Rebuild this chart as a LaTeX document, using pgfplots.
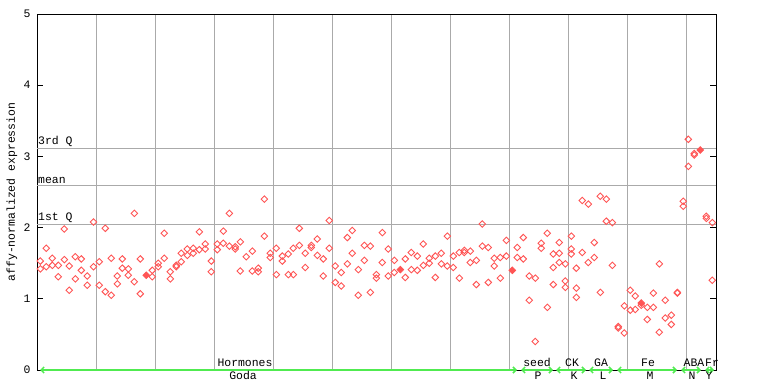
\documentclass[border=0pt]{standalone}
\usepackage{fontspec}
\setmainfont{Liberation Mono}
\usepackage{pgfplots}
\pgfplotsset{compat=1.18}
\usetikzlibrary{arrows.meta}
\definecolor{pt}{RGB}{255,85,85}
\definecolor{gridc}{RGB}{170,170,170}
\definecolor{grn}{RGB}{80,235,80}
\newcommand{\lf}{\fontsize{11.5}{13}\selectfont}
\tikzset{gb/.tip={Straight Barb[length=3bp,width=6bp]}}
\begin{document}
\begin{tikzpicture}[font=\lf]
\useasboundingbox (0,0) rectangle (768bp,384bp);
\begin{axis}[
 at={(37bp,14bp)}, anchor=south west,
 scale only axis, width=679bp, height=356bp,
 xmin=37, xmax=716, ymin=0, ymax=5,
 xtick={96,155,214,273,332,391,450,509,568,627,686},
 xticklabels={},
 xmajorgrids=true,
 ytick={0,1,2,3,4,5},
 major tick length=6bp,
 tick align=inside,
 xtick style={draw=none},
 ytick style={black, line width=1bp},
 major grid style={gridc, line width=1bp},
 extra y ticks={2.05,2.594,3.114},
 extra y tick labels={},
 extra y tick style={ymajorgrids=true, tick style={draw=none}},
 /pgf/number format/assume math mode=true,
 yticklabel style={font=\lf, xshift=-3bp},
 ylabel={affy-normalized expression},
 ylabel style={at={(axis description cs:-0.0368,0.5)}, anchor=center, font=\lf},
 axis line style={black, line width=1bp},
 clip=false,
]
\addplot[grn, line width=1.5bp, gb-gb] coordinates {(40,0) (517,0)};
\addplot[grn, line width=1.5bp, gb-gb] coordinates {(521,0) (553,0)};
\addplot[grn, line width=1.5bp, gb-gb] coordinates {(556,0) (586,0)};
\addplot[grn, line width=1.5bp, gb-gb] coordinates {(589,0) (613,0)};
\addplot[grn, line width=1.5bp, gb-gb] coordinates {(617,0) (677,0)};
\addplot[grn, line width=1.5bp, gb-gb] coordinates {(681,0) (701,0)};
\addplot[grn, line width=1.5bp, gb-gb] coordinates {(705,0) (714,0)};

\addplot[only marks, mark=square, mark size=2.3bp, mark options={rotate=45, draw=pt, line width=0.9bp}] table {
x y
40.3 1.53
40.3 1.42
46.3 1.71
46.3 1.45
52.3 1.57
52.3 1.47
58.3 1.47
58.3 1.31
64.3 1.98
64.3 1.55
69.3 1.46
69.3 1.12
75.3 1.59
75.3 1.28
81.3 1.56
81.3 1.40
87.3 1.32
87.3 1.19
93.5 2.08
93.5 1.45
99.3 1.52
99.3 1.19
105.3 1.99
105.3 1.10
111.3 1.57
111.3 1.05
117.3 1.32
117.3 1.21
122.3 1.56
122.3 1.43
128.3 1.42
128.3 1.33
134.3 2.20
134.3 1.24
140.3 1.56
140.3 1.07
152.3 1.40
152.3 1.31
158.3 1.50
158.3 1.45
164.3 1.92
164.3 1.57
170.3 1.38
170.3 1.28
176.3 1.47
176.3 1.45
181.3 1.64
181.3 1.52
187.3 1.70
187.3 1.61
193.3 1.71
193.3 1.64
199.3 1.94
199.3 1.69
205.3 1.77
205.3 1.70
211.3 1.53
211.3 1.38
217.3 1.77
217.3 1.69
223.3 1.95
223.3 1.78
229.3 2.20
229.3 1.74
235.3 1.73
235.3 1.70
240.3 1.80
240.3 1.39
246.3 1.59
252.3 1.67
252.3 1.39
258.3 1.43
258.3 1.38
264.3 2.40
264.3 1.88
270.3 1.64
270.3 1.58
276.3 1.71
276.3 1.34
282.3 1.60
282.3 1.53
288.3 1.63
288.3 1.34
293.3 1.71
293.3 1.34
299.3 1.99
299.3 1.75
305.3 1.64
305.3 1.44
311.3 1.75
311.3 1.72
317.3 1.84
317.3 1.61
323.3 1.56
323.3 1.32
329.3 2.10
329.3 1.71
335.3 1.46
335.3 1.23
341.3 1.37
341.3 1.18
347.3 1.86
347.3 1.49
352.3 1.96
352.3 1.64
358.3 1.41
358.3 1.05
364.3 1.75
364.3 1.54
370.3 1.74
370.3 1.09
376.3 1.34
376.3 1.29
382.3 1.93
382.3 1.51
388.3 1.70
388.3 1.32
394.3 1.54
394.3 1.37
405.3 1.56
405.3 1.30
411.3 1.65
411.3 1.41
417.3 1.60
417.3 1.40
423.3 1.77
423.3 1.47
429.3 1.57
429.3 1.50
435.3 1.60
435.3 1.30
441.3 1.64
441.3 1.49
447.3 1.88
447.3 1.46
453.3 1.60
453.3 1.44
459.3 1.65
459.3 1.29
464.3 1.68
464.3 1.65
470.3 1.67
470.3 1.51
476.3 1.54
476.3 1.20
482.3 2.05
482.3 1.74
488.3 1.72
488.3 1.23
494.3 1.57
494.3 1.46
500.3 1.58
500.3 1.29
506.3 1.82
506.3 1.60
517.3 1.72
517.3 1.58
523.3 1.86
523.3 1.56
529.3 1.32
529.3 0.98
535.3 1.29
535.3 0.40
541.3 1.78
541.3 1.71
547.3 1.92
547.3 0.88
553.3 1.63
553.3 1.44
553.3 1.20
559.3 1.79
559.3 1.64
559.3 1.51
565.3 1.49
565.3 1.25
565.3 1.16
571.3 1.88
571.3 1.70
571.3 1.63
576.3 1.43
576.3 1.15
576.3 1.02
582.3 2.38
582.3 1.65
588.3 2.33
588.3 1.51
594.3 1.79
594.3 1.58
600.3 2.44
600.3 1.09
606.3 2.40
606.3 2.09
612.3 2.07
612.3 1.47
618.3 0.61
618.3 0.59
624.3 0.90
624.3 0.52
630.3 1.12
630.3 0.84
635.3 1.04
635.3 0.85
641.3 0.91
647.3 0.88
647.3 0.71
653.3 1.08
653.3 0.88
659.3 1.49
659.3 0.53
665.3 0.98
665.3 0.73
671.3 0.77
671.3 0.64
677.3 1.09
677.3 1.08
683.3 2.37
683.3 2.30
688.3 3.24
688.3 2.86
694.3 3.04
694.3 3.02
706.3 2.16
706.3 2.13
712.3 2.07
712.3 1.26
};
\addplot[only marks, mark=square*, mark size=2.3bp, mark options={rotate=45, draw=pt, fill=pt, line width=0.9bp}] table {
x y
146.3 1.33
400.3 1.41
512.3 1.40
641.3 0.94
700.3 3.09
};

\node[anchor=south west, inner sep=1bp] at (axis cs:37,3.114) {3rd Q};
\node[anchor=south west, inner sep=1bp] at (axis cs:37,2.594) {mean};
\node[anchor=south west, inner sep=1bp] at (axis cs:37,2.05) {1st Q};

\node[anchor=base, inner sep=0pt, yshift=3.7bp] at (axis cs:245,0) {Hormones};
\node[anchor=base, inner sep=0pt, yshift=3.7bp] at (axis cs:537,0) {seed};
\node[anchor=base, inner sep=0pt, yshift=3.7bp] at (axis cs:572,0) {CK};
\node[anchor=base, inner sep=0pt, yshift=3.7bp] at (axis cs:601,0) {GA};
\node[anchor=base, inner sep=0pt, yshift=3.7bp] at (axis cs:648,0) {Fe};
\node[anchor=base, inner sep=0pt, yshift=3.7bp] at (axis cs:694,0) {ABA};
\node[anchor=base, inner sep=0pt, yshift=3.7bp] at (axis cs:712,0) {Fr};

\node[anchor=base, inner sep=0pt, yshift=-9.5bp] at (axis cs:243,0) {Goda};
\node[anchor=base, inner sep=0pt, yshift=-9.5bp] at (axis cs:538,0) {P};
\node[anchor=base, inner sep=0pt, yshift=-9.5bp] at (axis cs:574,0) {K};
\node[anchor=base, inner sep=0pt, yshift=-9.5bp] at (axis cs:603,0) {L};
\node[anchor=base, inner sep=0pt, yshift=-9.5bp] at (axis cs:650,0) {M};
\node[anchor=base, inner sep=0pt, yshift=-9.5bp] at (axis cs:692,0) {N};
\node[anchor=base, inner sep=0pt, yshift=-9.5bp] at (axis cs:709,0) {Y};
\end{axis}
\end{tikzpicture}
\end{document}
